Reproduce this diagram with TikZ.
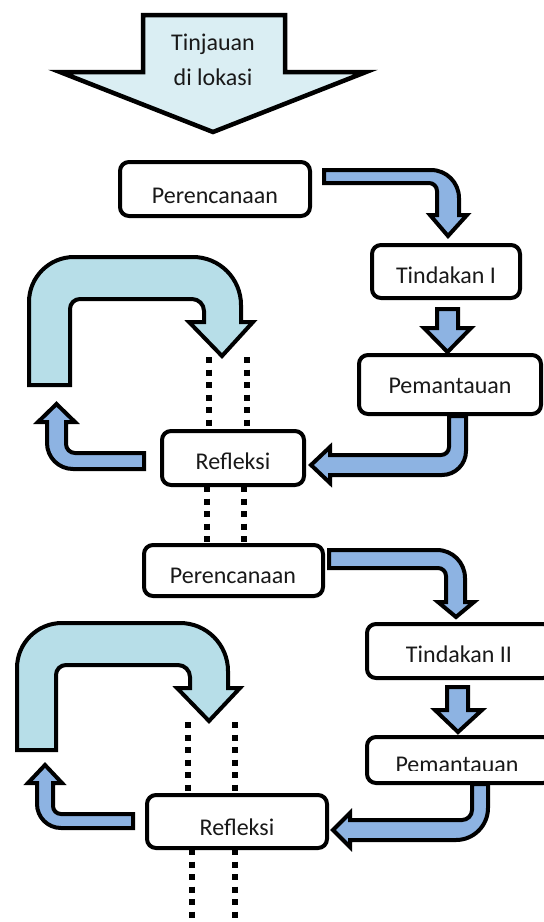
\documentclass[tikz,border=0pt]{standalone}
\usepackage{fontspec}
\setmainfont{Carlito}
\definecolor{toparrow}{HTML}{DAEEF3}
\definecolor{uarrow}{HTML}{B7DEE8}
\definecolor{barrow}{HTML}{8DB3E2}
\newcommand\lblfont{\fontsize{24}{29}\selectfont}
\tikzset{
  boxnode/.style={draw=black, line width=4pt, rounded corners=9pt, fill=white, inner sep=0pt},
  lbl/.style={anchor=base, font=\lblfont, inner sep=0pt, text=black!90},
  toparr/.style={draw=black, line width=4.5pt, fill=toparrow, line join=miter},
  uarr/.style={draw=black, line width=4pt, fill=uarrow, line join=miter},
  barr/.style={draw=black, line width=4pt, fill=barrow, line join=miter},
  dotline/.style={draw=black, line width=6pt, dash pattern=on 6pt off 6.5pt}
}
\begin{document}
\begin{tikzpicture}[x=1pt,y=-1pt]
\clip (0,0) rectangle (544,922);
\fill[white] (0,0) rectangle (544,922);

% top arrow
\draw[toparr] (143,15) -- (285,15) -- (285,72) -- (366,72) -- (213,132) -- (60,72) -- (143,72) -- cycle;
\node[lbl] (tin1) at (213,50) {Tinjauan};
\node[lbl] (tin2) at (213,85) {di lokasi};

% U arrows
\draw[uarr] (29,385) -- (29,302) arc[start angle=180,end angle=270,radius=45] -- (193,257) arc[start angle=270,end angle=360,radius=48] -- (241,322) -- (253,322) -- (222,356) -- (189,322) -- (204,322) -- (204,311) arc[start angle=0,end angle=-90,radius=12] -- (80,299) arc[start angle=270,end angle=180,radius=10] -- (70,385) -- cycle;
\draw[uarr] (17,750) -- (17,668) arc[start angle=180,end angle=270,radius=45] -- (180,623) arc[start angle=270,end angle=360,radius=48] -- (228,688) -- (240,688) -- (209,721) -- (177,688) -- (190,688) -- (190,677) arc[start angle=0,end angle=-90,radius=12] -- (66,665) arc[start angle=270,end angle=180,radius=10] -- (56,750) -- cycle;

% dotted lines
\coordinate (d1a) at (209,357); \coordinate (d1b) at (209,431);
\coordinate (d2a) at (247,357); \coordinate (d2b) at (247,431);
\coordinate (d3a) at (207,486); \coordinate (d3b) at (207,548);
\coordinate (d4a) at (244,486); \coordinate (d4b) at (244,548);
\coordinate (d5a) at (188,722); \coordinate (d5b) at (188,795);
\coordinate (d6a) at (235,722); \coordinate (d6b) at (235,795);
\coordinate (d7a) at (192,849); \coordinate (d7b) at (192,922);
\coordinate (d8a) at (235,849); \coordinate (d8b) at (235,922);
\foreach \a/\b in {d1a/d1b,d2a/d2b,d3a/d3b,d4a/d4b,d5a/d5b,d6a/d6b,d7a/d7b,d8a/d8b}
  \draw[dotline] (\a) -- (\b);

% boxes
\node[boxnode, minimum width=190pt, minimum height=54pt] (p1) at (215,189) {};
\node[boxnode, minimum width=148pt, minimum height=53pt] (t1) at (446,271.5) {};
\node[boxnode, minimum width=182pt, minimum height=59pt] (m1) at (450,384.5) {};
\node[boxnode, minimum width=142pt, minimum height=54pt] (r1) at (233,458) {};
\node[boxnode, minimum width=179pt, minimum height=51pt] (p2) at (233.5,570.5) {};
\node[boxnode, minimum width=185pt, minimum height=54pt] (t2) at (459.5,651) {};
\node[boxnode, minimum width=185pt, minimum height=46pt] (m2) at (459.5,760) {};
\node[boxnode, minimum width=180pt, minimum height=53pt] (r2) at (237,821.5) {};

% blue arrows
\draw[barr] (324,170) -- (431,170) arc[start angle=270,end angle=360,radius=28] -- (459,215) -- (467,215) -- (448,236) -- (430,215) -- (437,215) -- (437,191) arc[start angle=0,end angle=-90,radius=8] -- (324,183) -- cycle;
\draw[barr] (437,309) -- (458,309) -- (458,328) -- (471,328) -- (447.5,352) -- (424,328) -- (437,328) -- cycle;
\draw[barr] (449,416) -- (466,416) -- (466,451) arc[start angle=0,end angle=90,radius=24] -- (330,475) -- (330,483) -- (311,465) -- (330,447) -- (330,455) -- (441,455) arc[start angle=90,end angle=0,radius=8] -- cycle;
\draw[barr] (144,453) -- (144,469) -- (73,469) arc[start angle=90,end angle=180,radius=26] -- (47,422) -- (38,422) -- (56.5,404) -- (75,422) -- (66,422) -- (66,444) arc[start angle=180,end angle=90,radius=9] -- cycle;
\draw[barr] (329,550) -- (437,550) arc[start angle=270,end angle=360,radius=28] -- (465,602) -- (474,602) -- (456,617) -- (438,602) -- (446,602) -- (446,576) arc[start angle=0,end angle=-90,radius=8] -- (329,568) -- cycle;
\draw[barr] (447,687) -- (468,687) -- (468,710) -- (482,710) -- (458,732) -- (435,710) -- (447,710) -- cycle;
\draw[barr] (472,784) -- (488,784) -- (488,808) arc[start angle=0,end angle=90,radius=32] -- (350,840) -- (350,847) -- (333,830) -- (350,813) -- (350,820) -- (462,820) arc[start angle=90,end angle=0,radius=10] -- cycle;
\draw[barr] (133,814) -- (133,828) -- (61,828) arc[start angle=90,end angle=180,radius=24] -- (37,783) -- (28,783) -- (45,765) -- (62,783) -- (53,783) -- (53,806) arc[start angle=180,end angle=90,radius=8] -- cycle;

% labels
\node[lbl] (p1t) at (215,203) {Perencanaan};
\node[lbl] (t1t) at (446,283) {Tindakan I};
\node[lbl] (m1t) at (450,393) {Pemantauan};
\node[lbl] (r1t) at (233,469) {Refleksi};
\node[lbl] (p2t) at (233,583) {Perencanaan};
\node[lbl] (t2t) at (459,662) {Tindakan II};
\begin{scope}
  \clip (360,740) rectangle (544,770);
  \node[lbl] (m2t) at (457,772) {Pemantauan};
\end{scope}
\node[lbl] (r2t) at (237,835) {Refleksi};
\end{tikzpicture}
\end{document}
